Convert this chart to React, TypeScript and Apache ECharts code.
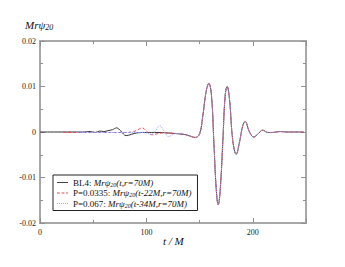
import React, { useEffect, useRef } from "react";
import * as echarts from "echarts";

// Early (junk radiation) parts of each waveform
const bl4EarlyT = [0, 20, 40, 47, 52, 56, 60, 64, 68, 72, 76, 81, 86, 91, 100, 110, 120, 130, 137];
const bl4EarlyV = [0, 0, 0, 0.0001, -0.0001, 0.0002, 0.0001, 0.0003, 0.0005, 0.0009, 0.0002, -0.0008, -0.0005, -0.0002, -0.0001, -0.0001, -0.0002, -0.0004, -0.0006];

const p0335EarlyT = [22, 40, 60, 80, 88, 92, 96, 100, 105, 110, 115, 125, 132, 137];
const p0335EarlyV = [-0.0001, -0.0001, -0.0001, -0.0001, 0.0001, 0.0005, 0.0009, 0.0002, -0.0006, -0.0004, -0.0002, -0.0003, -0.0004, -0.0006];

const p067EarlyT = [34, 50, 70, 90, 100, 105, 109, 112.5, 116, 121, 126, 132, 137];
const p067EarlyV = [0, -0.0001, -0.0001, -0.0001, -0.0002, -0.0005, 0.0004, 0.0014, 0.0004, -0.001, -0.0004, -0.0003, -0.0006];

// Common merger burst (all three overlap)
const burstT = [141, 146, 150, 153, 156.2, 158.7, 161.2, 163.4, 165.6, 167.5, 169.3, 171.8, 174, 175.9, 178.1, 181.2, 184.4, 187.5, 190.6, 192.8, 196.9, 200.9, 204.6, 209.3, 214, 218.7, 225.6, 232, 240, 248];
const burstV = [-0.0009, -0.0012, -0.0004, 0.0035, 0.009, 0.0107, 0.0079, -0.0022, -0.0124, -0.016, -0.013, -0.0022, 0.0079, 0.01, 0.0072, -0.0019, -0.0049, -0.0022, 0.0014, 0.0023, 0.0, -0.0011, -0.0005, 0.0004, -0.0001, -0.0001, 0.0001, 0, 0, 0];

const xTickLabels = [0, 100, 200];
const seriesNames = ["BL4", "P=0.0335", "P=0.067"];
const legendArgs = ["(t,r=70M)", "(t-22M,r=70M)", "(t-34M,r=70M)"];

const zip = (t: number[], v: number[]) => t.map((x, i) => [x, v[i]]);

const SERIF = "Liberation Serif";
const COLORS = ["#333333", "#e8474f", "#9ea4ff"];
const ICONS = [
  "path://M0,0h12v1h-12z",
  "path://M0,0h3v1h-3z M5,0h3v1h-3z M10,0h2v1h-2z",
  "path://M0,0h1v1h-1z M2,0h1v1h-1z M4,0h1v1h-1z M6,0h1v1h-1z M8,0h1v1h-1z M10,0h1v1h-1z",
];

export default function App() {
  const ref = useRef<HTMLDivElement>(null);
  useEffect(() => {
    if (!ref.current) return;
    const chart = echarts.init(ref.current, undefined, { renderer: "svg" });
    const axisGray = "#a8a8a8";
    const mkLine = () => ({ show: true, onZero: false, lineStyle: { color: axisGray, width: 2 } });
    const mkTick = (len: number) => ({ show: true, inside: true, length: len, lineStyle: { color: "#909090", width: 1 } });
    const burst = zip(burstT, burstV);
    const mkX = (position: string, interval: number, len: number, labels: boolean) => ({
      type: "value",
      min: 0,
      max: 250,
      position,
      interval,
      axisLine: mkLine(),
      splitLine: { show: false },
      axisTick: mkTick(len),
      axisLabel: labels
        ? {
            fontFamily: SERIF,
            fontSize: 8,
            color: "#222",
            margin: 5,
            formatter: (v: number) => (xTickLabels.includes(v) ? String(v) : ""),
          }
        : { show: false },
    });
    const mkY = (position: string, labels: boolean) => ({
      type: "value",
      min: -0.02,
      max: 0.02,
      interval: 0.01,
      position,
      axisLine: mkLine(),
      splitLine: { show: false },
      axisTick: mkTick(5),
      minorTick: { show: true, splitNumber: 2, length: 3, lineStyle: { color: "#909090", width: 1 } },
      axisLabel: labels
        ? {
            fontFamily: SERIF,
            fontSize: 8,
            color: "#222",
            margin: 4,
            formatter: (v: number) => (Math.abs(v) < 1e-9 ? "0" : v.toFixed(2)),
          }
        : { show: false },
    });
    chart.setOption({
      animation: false,
      grid: { left: 40, top: 41, width: 266, height: 182 },
      xAxis: [
        mkX("bottom", 100, 5, true),
        mkX("bottom", 50, 3, false),
        mkX("top", 100, 5, false),
        mkX("top", 50, 3, false),
      ],
      yAxis: [mkY("left", true), mkY("right", false)],
      legend: {
        orient: "vertical",
        left: 53,
        top: 175,
        padding: [3, 6, 2, 4],
        itemGap: 1,
        itemWidth: 11,
        itemHeight: 1,
        borderColor: "#222",
        borderWidth: 1,
        data: seriesNames.map((n, i) => ({ name: n, icon: ICONS[i], itemStyle: { color: COLORS[i] } })),
        formatter: (name: string) => {
          const i = seriesNames.indexOf(name);
          return `{n|${name}: }{i|Mrψ}{s|20}{i|${legendArgs[i]}}`;
        },
        textStyle: {
          fontFamily: SERIF,
          fontSize: 9,
          color: "#111",
          rich: {
            n: { fontFamily: SERIF, fontSize: 9, color: "#111" },
            i: { fontFamily: SERIF, fontSize: 9, fontStyle: "italic", color: "#111" },
            s: { fontFamily: SERIF, fontSize: 6, fontStyle: "italic", color: "#111", padding: [4, 0, 0, 0] },
          },
        },
      },
      graphic: [
        {
          type: "text",
          left: 25,
          top: 19,
          style: {
            text: "{a|Mrψ}{b|20}",
            rich: {
              a: { fontFamily: SERIF, fontSize: 11, fontStyle: "italic", fill: "#111" },
              b: { fontFamily: SERIF, fontSize: 8, fontStyle: "italic", fill: "#111", padding: [6, 0, 0, 0] },
            },
          },
        },
        {
          type: "text",
          left: 163,
          top: 235,
          style: {
            text: "t / M",
            fontFamily: SERIF,
            fontSize: 11,
            fontStyle: "italic",
            fill: "#111",
          },
        },
      ],
      series: [
        {
          name: seriesNames[0],
          type: "line",
          symbol: "none",
          smooth: 0.4,
          lineStyle: { color: COLORS[0], width: 1 },
          itemStyle: { color: COLORS[0] },
          data: [...zip(bl4EarlyT, bl4EarlyV), ...burst],
        },
        {
          name: seriesNames[1],
          type: "line",
          symbol: "none",
          smooth: 0.4,
          lineStyle: { color: COLORS[1], width: 1, type: [3, 2] },
          itemStyle: { color: COLORS[1] },
          data: [...zip(p0335EarlyT, p0335EarlyV), ...burst],
        },
        {
          name: seriesNames[2],
          type: "line",
          symbol: "none",
          smooth: 0.4,
          lineStyle: { color: COLORS[2], width: 1, type: [1, 1] },
          itemStyle: { color: COLORS[2] },
          data: [...zip(p067EarlyT, p067EarlyV), ...burst],
        },
      ],
    });
    return () => chart.dispose();
  }, []);
  return (
    <div
      ref={ref}
      style={{ position: "fixed", left: 0, top: 0, width: 345, height: 267, background: "#fff" }}
    />
  );
}
